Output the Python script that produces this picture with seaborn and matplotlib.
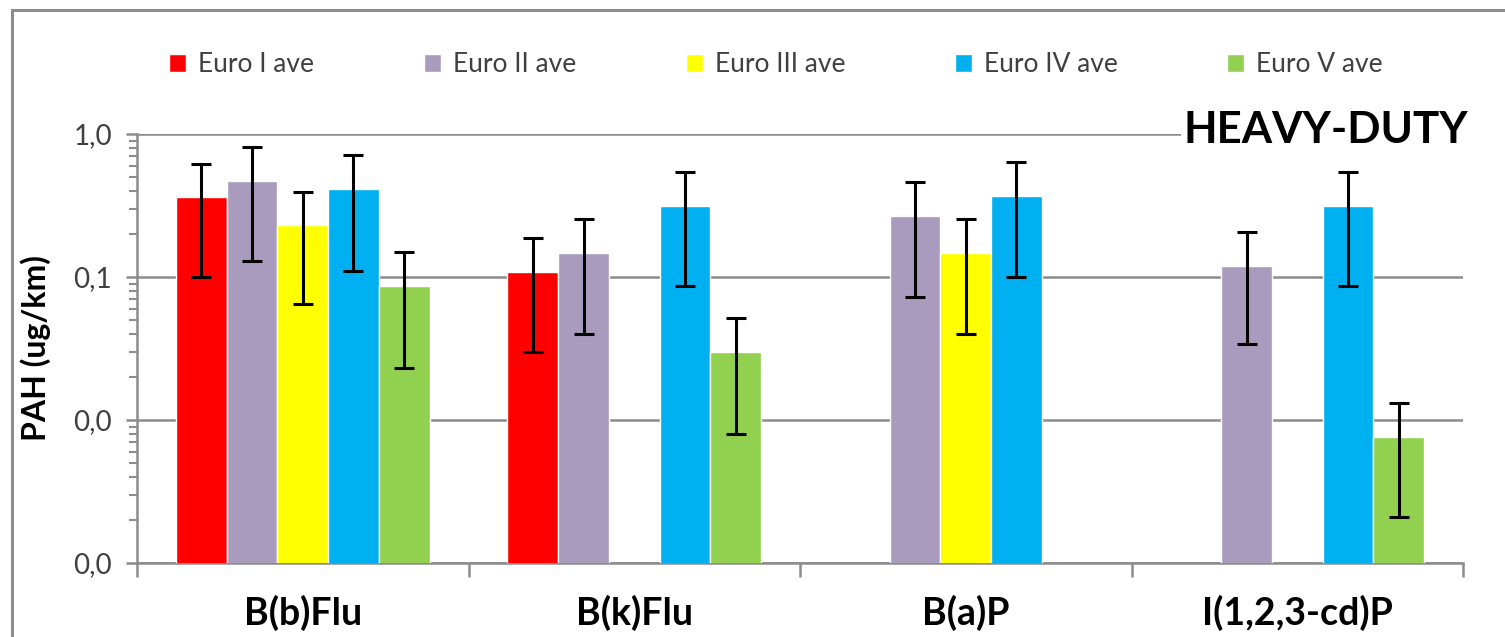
import matplotlib
matplotlib.use("Agg")
import matplotlib.pyplot as plt
import matplotlib.ticker as mticker
from matplotlib.patches import Rectangle
import numpy as np
import pandas as pd
import seaborn as sns

# PAH emission factors (ug/km), heavy-duty vehicles, mean and standard deviation
compounds = ["B(b)Flu", "B(k)Flu", "B(a)P", "I(1,2,3-cd)P"]
classes = ["Euro I ave", "Euro II ave", "Euro III ave", "Euro IV ave", "Euro V ave"]
colors = ["#FF0000", "#A99BBE", "#FFFF00", "#00B0F0", "#92D050"]

compound_col = ["B(b)Flu"] * 5 + ["B(k)Flu"] * 4 + ["B(a)P"] * 3 + ["I(1,2,3-cd)P"] * 3
class_col = ["Euro I ave", "Euro II ave", "Euro III ave", "Euro IV ave", "Euro V ave",
             "Euro I ave", "Euro II ave", "Euro IV ave", "Euro V ave",
             "Euro II ave", "Euro III ave", "Euro IV ave",
             "Euro II ave", "Euro IV ave", "Euro V ave"]
mean_vals = [0.36, 0.47, 0.23, 0.41, 0.086,
             0.109, 0.148, 0.315, 0.030,
             0.268, 0.148, 0.37,
             0.12, 0.315, 0.0076]
sd_vals = [0.26, 0.34, 0.165, 0.30, 0.063,
           0.079, 0.108, 0.228, 0.022,
           0.195, 0.108, 0.27,
           0.086, 0.228, 0.0055]

df = pd.DataFrame({"compound": compound_col, "cls": class_col,
                   "mean": mean_vals, "sd": sd_vals})

sns.set_theme(style="white")
plt.rcParams["font.family"] = ["Lato", "DejaVu Sans"]

W, H = 1505, 637
fig = plt.figure(figsize=(W / 100, H / 100), dpi=100)
ax = fig.add_axes([137 / W, 1 - 563 / H, (1463 - 137) / W, (563 - 134) / H])

grey = "#8C8C8C"

sns.barplot(data=df, x="compound", y="mean", hue="cls", order=compounds,
            hue_order=classes, palette=colors, width=0.765, errorbar=None,
            saturation=1, ax=ax, zorder=3, log_scale=True)

# error bars centred on each drawn bar
for cls, cont in zip(classes, ax.containers):
    sub = df[df["cls"] == cls]
    for bar in cont:
        xc = bar.get_x() + bar.get_width() / 2
        comp = compounds[int(round(xc))]
        row = sub[sub["compound"] == comp].iloc[0]
        ax.errorbar(xc, row["mean"], yerr=row["sd"], fmt="none", ecolor="black",
                    elinewidth=2.2, capsize=7, capthick=2.2, zorder=4)

ax.set_yscale("log")
ax.set_ylim(0.001, 1.0)
ax.set_xlim(-0.5, 3.5)

ax.yaxis.set_major_locator(mticker.LogLocator(base=10, numticks=10))
ax.yaxis.set_minor_locator(mticker.LogLocator(base=10, subs=np.arange(2, 10), numticks=20))
ax.yaxis.set_major_formatter(mticker.FuncFormatter(lambda v, p: f"{v:.1f}".replace(".", ",")))
ax.yaxis.set_minor_formatter(mticker.NullFormatter())
ax.yaxis.grid(True, which="major", color=grey, linewidth=1.8, zorder=1)
ax.set_axisbelow(True)

# category separators as major ticks, names at the category centres
ax.set_xticks([-0.5, 0.5, 1.5, 2.5, 3.5])
ax.set_xticklabels([])
ax.set_xticks(range(len(compounds)), minor=True)
ax.set_xticklabels(compounds, minor=True, fontsize=27, fontweight="bold", color="black")
ax.tick_params(axis="x", which="major", direction="out", length=10, width=1.8,
               color=grey, bottom=True)
ax.tick_params(axis="x", which="minor", length=0, pad=23)
ax.tick_params(axis="y", which="major", direction="out", length=8, width=1.8,
               color=grey, left=True, labelsize=20, labelcolor="#404040", pad=10)
ax.tick_params(axis="y", which="minor", direction="out", length=6, width=1.5,
               color=grey, left=True)

for side in ["top", "right"]:
    ax.spines[side].set_visible(False)
for side in ["left", "bottom"]:
    ax.spines[side].set_color(grey)
    ax.spines[side].set_linewidth(1.8)

ax.set_xlabel("")
ax.set_ylabel("PAH (ug/km)", fontsize=23, fontweight="bold", color="black")
ax.yaxis.set_label_coords(-86 / (1463 - 137), 0.5)

handles, labels = ax.get_legend_handles_labels()
ax.legend(handles, labels, ncol=5, loc="center", frameon=False,
          bbox_to_anchor=(776 / W, 1 - 65 / H), bbox_transform=fig.transFigure,
          fontsize=19, handlelength=0.65, handleheight=0.65, handletextpad=0.45,
          columnspacing=4.15, labelcolor="#404040")

fig.text(1326 / W, 1 - 130 / H, "HEAVY-DUTY", fontsize=31.5, fontweight="bold",
         ha="center", va="center", color="black",
         bbox=dict(facecolor="white", edgecolor="none", pad=2))

# chart frame
fig.patches.append(Rectangle((12 / W, -0.1), 1.2, 1 - 10 / H + 0.1,
                             transform=fig.transFigure, fill=False,
                             edgecolor="#8C8C8C", linewidth=2.2))

fig.savefig("out.png", dpi=100)
